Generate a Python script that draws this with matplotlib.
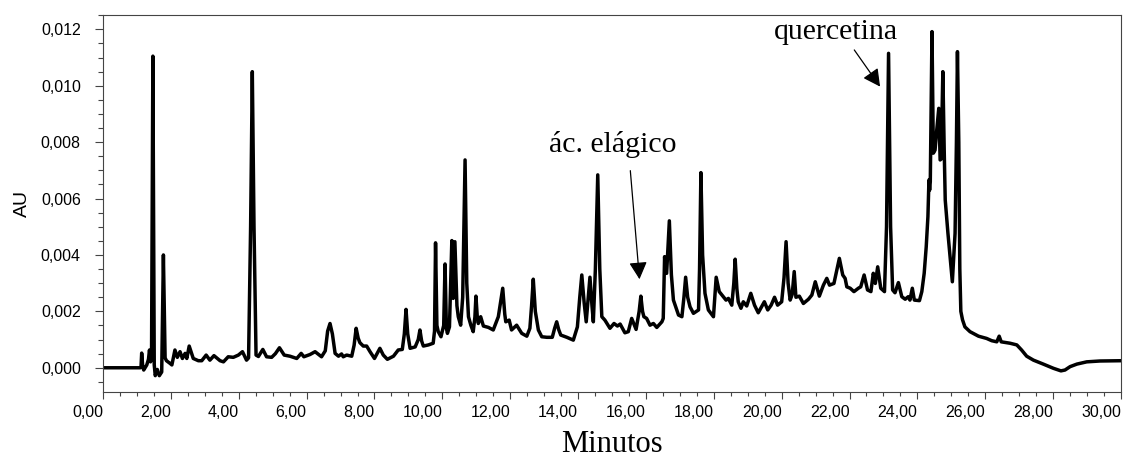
import numpy as np
import matplotlib
matplotlib.use("Agg")
import matplotlib.pyplot as plt
from matplotlib.ticker import MultipleLocator, FuncFormatter

# chromatogram trace: retention time (min) and signal (mAU)
# --- 0-7 min -------------------------------------------------------------
t_a = [0.00, 1.10, 1.12, 1.14, 1.17, 1.20, 1.29, 1.34, 1.37, 1.40, 1.43, 1.47,
       1.51, 1.54, 1.60, 1.66, 1.73, 1.78, 1.83, 1.87, 1.97, 2.03, 2.12, 2.19,
       2.27, 2.34, 2.42, 2.47, 2.54, 2.66, 2.81, 2.91, 3.04, 3.15, 3.27, 3.45,
       3.55, 3.69, 3.84, 3.99, 4.11, 4.23, 4.29, 4.35, 4.40, 4.45, 4.51, 4.58,
       4.71, 4.82, 4.97, 5.08, 5.20, 5.34, 5.51, 5.71, 5.84, 5.92, 6.10, 6.25,
       6.44, 6.55, 6.62, 6.69, 6.76, 6.84, 6.94]
mau_a = [0.00, 0.00, 0.02, 0.52, 0.05, -0.08, 0.10, 0.30, 0.63, 0.21, 0.30, 11.05,
         0.10, -0.28, -0.06, -0.28, -0.15, 4.00, 0.35, 0.25, 0.16, 0.10, 0.63, 0.37,
         0.57, 0.33, 0.51, 0.33, 0.77, 0.33, 0.25, 0.25, 0.45, 0.27, 0.43, 0.25,
         0.21, 0.39, 0.37, 0.45, 0.57, 0.27, 0.35, 5.00, 10.50, 5.00, 0.45, 0.40,
         0.65, 0.39, 0.37, 0.50, 0.71, 0.45, 0.41, 0.33, 0.51, 0.39, 0.47, 0.57,
         0.39, 0.60, 1.30, 1.57, 1.20, 0.51, 0.41]

# --- 7-12.5 min ----------------------------------------------------------
t_b = [7.03, 7.08, 7.18, 7.33, 7.40, 7.46, 7.52, 7.57, 7.67, 7.77, 7.87, 8.00,
       8.10, 8.16, 8.26, 8.38, 8.56, 8.70, 8.82, 8.88, 8.93, 8.98, 9.05, 9.20,
       9.29, 9.34, 9.39, 9.44, 9.59, 9.73, 9.77, 9.80, 9.84, 9.88, 9.96, 10.04,
       10.08, 10.12, 10.15, 10.21, 10.28, 10.32, 10.37, 10.43, 10.47, 10.54, 10.60, 10.67,
       10.72, 10.77, 10.84, 10.91, 10.96, 10.99, 11.03, 11.06, 11.13, 11.21, 11.36, 11.50,
       11.65, 11.78, 11.84, 11.87, 11.97, 12.04, 12.19, 12.34, 12.49]
mau_b = [0.49, 0.39, 0.45, 0.41, 0.80, 1.40, 1.05, 0.89, 0.77, 0.77, 0.57, 0.33,
         0.55, 0.69, 0.45, 0.30, 0.41, 0.63, 0.65, 1.20, 2.07, 1.20, 0.69, 0.74,
         1.00, 1.34, 0.95, 0.77, 0.81, 0.87, 1.30, 4.43, 1.50, 1.28, 1.10, 1.50,
         3.68, 1.40, 1.22, 1.45, 4.51, 2.46, 4.47, 2.20, 1.81, 1.51, 2.50, 7.37,
         3.00, 1.81, 1.51, 1.28, 1.80, 2.54, 1.80, 1.57, 1.81, 1.48, 1.43, 1.34,
         1.81, 2.82, 1.90, 1.63, 1.69, 1.34, 1.51, 1.22, 1.12]

# --- 12.5-18 min ---------------------------------------------------------
t_c = [12.58, 12.63, 12.68, 12.74, 12.83, 12.93, 13.08, 13.24, 13.31, 13.37, 13.43, 13.49,
       13.67, 13.86, 13.98, 14.05, 14.11, 14.18, 14.24, 14.30, 14.35, 14.41, 14.45, 14.51,
       14.58, 14.64, 14.70, 14.79, 14.94, 15.06, 15.16, 15.24, 15.38, 15.48, 15.58, 15.71,
       15.80, 15.85, 15.90, 15.94, 16.02, 16.12, 16.22, 16.32, 16.47, 16.51, 16.55, 16.58,
       16.61, 16.69, 16.75, 16.81, 16.96, 17.06, 17.12, 17.17, 17.23, 17.30, 17.40, 17.55,
       17.58, 17.62, 17.67, 17.74, 17.84, 17.99]
mau_c = [1.40, 2.20, 3.14, 2.00, 1.34, 1.10, 1.08, 1.08, 1.40, 1.63, 1.35, 1.16,
         1.08, 0.98, 1.45, 2.50, 3.29, 2.30, 1.63, 2.50, 3.21, 2.20, 1.63, 3.50,
         6.84, 3.50, 1.81, 1.69, 1.40, 1.57, 1.48, 1.55, 1.24, 1.28, 1.75, 1.36,
         2.00, 2.54, 2.00, 1.81, 1.75, 1.51, 1.57, 1.43, 1.63, 1.75, 3.94, 3.35,
         3.35, 5.21, 3.30, 2.40, 1.87, 1.81, 2.50, 3.21, 2.50, 2.16, 1.93, 2.05,
         3.50, 6.92, 4.00, 2.64, 2.05, 1.81]

# --- 18-24 min -----------------------------------------------------------
t_d = [18.07, 18.16, 18.28, 18.36, 18.43, 18.53, 18.59, 18.63, 18.68, 18.72, 18.80, 18.87,
       18.97, 19.09, 19.20, 19.31, 19.49, 19.59, 19.69, 19.79, 19.88, 20.00, 20.07, 20.13,
       20.19, 20.25, 20.31, 20.37, 20.42, 20.52, 20.64, 20.79, 20.89, 20.99, 21.11, 21.23,
       21.33, 21.41, 21.54, 21.70, 21.80, 21.87, 21.92, 22.02, 22.13, 22.26, 22.33, 22.43,
       22.53, 22.63, 22.70, 22.76, 22.83, 22.92, 23.03, 23.09, 23.15, 23.21, 23.27, 23.34,
       23.44, 23.54, 23.64, 23.73, 23.78, 23.85, 23.91, 24.06]
mau_d = [3.21, 2.70, 2.52, 2.40, 2.46, 2.22, 3.00, 3.85, 2.80, 2.34, 2.11, 2.34,
         2.19, 2.64, 2.22, 1.95, 2.34, 2.05, 2.22, 2.50, 2.22, 2.34, 3.20, 4.47,
         3.00, 2.40, 2.60, 3.41, 2.50, 2.54, 2.28, 2.43, 2.58, 3.05, 2.54, 2.93,
         3.17, 2.93, 2.99, 3.88, 3.29, 3.17, 2.87, 2.82, 2.70, 2.82, 2.87, 3.29,
         2.76, 2.70, 3.35, 2.99, 3.58, 2.82, 2.70, 5.00, 11.15, 5.00, 2.76, 2.66,
         3.02, 2.52, 2.43, 2.52, 2.40, 2.82, 2.40, 2.38]

# --- 24-30 min -----------------------------------------------------------
t_e = [24.13, 24.20, 24.26, 24.31, 24.34, 24.36, 24.38, 24.43, 24.47, 24.52, 24.57, 24.63,
       24.67, 24.70, 24.75, 24.79, 24.82, 24.90, 24.99, 25.03, 25.11, 25.15, 25.18, 25.22,
       25.25, 25.28, 25.33, 25.40, 25.55, 25.80, 26.04, 26.19, 26.34, 26.41, 26.47, 26.73,
       26.93, 27.07, 27.22, 27.42, 27.71, 28.01, 28.23, 28.35, 28.50, 28.70, 28.99, 29.38,
       30.00]
mau_e = [2.70, 3.35, 4.29, 5.36, 6.66, 6.30, 6.60, 11.92, 7.61, 7.72, 8.43, 9.20,
         7.37, 7.40, 10.50, 7.72, 5.95, 4.77, 3.58, 3.05, 4.77, 8.00, 11.21, 8.00,
         3.50, 2.00, 1.70, 1.45, 1.28, 1.12, 1.04, 0.96, 0.92, 1.12, 0.92, 0.87,
         0.81, 0.63, 0.41, 0.27, 0.13, -0.02, -0.11, -0.08, 0.04, 0.13, 0.21, 0.24,
         0.25]

# labelled peaks: name, text position (min, mAU), arrow tail, arrow tip
labels = ["ác. elágico", "quercetina"]
label_pos = [(15.03, 7.65), (21.60, 11.66)]
arrow_tail = [(15.54, 6.99), (22.14, 11.27)]
arrow_tip = [(15.81, 3.14), (22.90, 9.97)]

minutes = np.concatenate([t_a, t_b, t_c, t_d, t_e])
au = np.concatenate([mau_a, mau_b, mau_c, mau_d, mau_e]) / 1000.0

fig = plt.figure(figsize=(11.29, 4.59), dpi=100)
ax = fig.add_axes([103 / 1129, 1 - 392.3 / 459, 1018 / 1129, 377.6 / 459])

ax.plot(minutes, au, color="black", lw=2.5, solid_joinstyle="round")

ax.set_xlim(0, 30)
ax.set_ylim(-0.00087, 0.01252)

ax.xaxis.set_major_locator(MultipleLocator(2))
ax.xaxis.set_minor_locator(MultipleLocator(0.5))
ax.yaxis.set_major_locator(MultipleLocator(0.002))
ax.yaxis.set_minor_locator(MultipleLocator(0.0005))
ax.xaxis.set_major_formatter(FuncFormatter(lambda v, _: f"{abs(v) if abs(v) < 1e-9 else v:.2f}".replace(".", ",")))
ax.yaxis.set_major_formatter(FuncFormatter(lambda v, _: f"{abs(v) if abs(v) < 1e-9 else v:.3f}".replace(".", ",")))

ax.tick_params(axis="both", which="both", direction="out", color="#444444", width=0.8,
               labelsize=11.5, top=False, right=False)
ax.tick_params(axis="y", which="major", length=6, pad=10)
ax.tick_params(axis="y", which="minor", length=3.5)
ax.tick_params(axis="x", which="major", length=5, pad=4)
ax.tick_params(axis="x", which="minor", length=3)
for lab in ax.get_xticklabels():
    lab.set_horizontalalignment("right")
for sp in ax.spines.values():
    sp.set_color("#444444")
    sp.set_linewidth(0.8)

ax.set_ylabel("AU", fontsize=14, family="Liberation Sans")
ax.yaxis.set_label_coords(-0.071, 0.5)
fig.text(612 / 1129, 7 / 459, "Minutos", ha="center", va="baseline",
         fontsize=22, family="Liberation Serif")

for name, pos, tail, tip in zip(labels, label_pos, arrow_tail, arrow_tip):
    ax.text(pos[0], pos[1] / 1000, name, ha="center", va="baseline",
            fontsize=21.5, family="Liberation Serif")
    ax.annotate("", xy=(tip[0], tip[1] / 1000), xytext=(tail[0], tail[1] / 1000),
                arrowprops=dict(arrowstyle="-|>,head_length=10.5,head_width=5.5",
                                mutation_scale=1, color="black", lw=0.9,
                                shrinkA=0, shrinkB=0))

for lab in ax.get_xticklabels() + ax.get_yticklabels():
    lab.set_family("Liberation Sans")

fig.savefig("out.png", dpi=100)
